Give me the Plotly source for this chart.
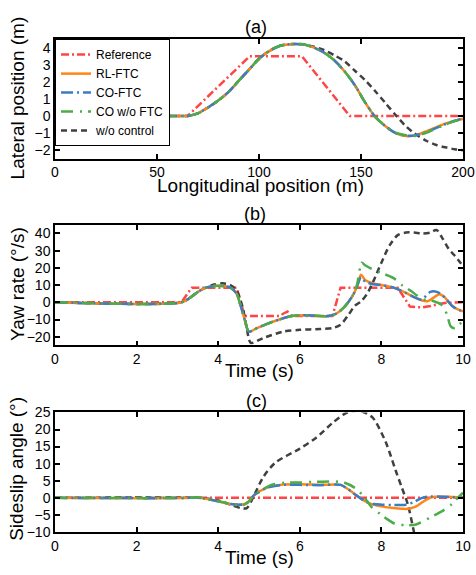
import plotly.graph_objects as go

# ---------------- data ----------------
series_names = ["Reference", "RL-FTC", "CO-FTC", "CO w/o FTC", "w/o control"]

# (a) lateral position vs longitudinal position
a_ref_x = [0, 65, 95.5, 121, 144.5, 200]
a_ref_y = [0, 0, 3.5, 3.5, 0, 0]

a_x = [0, 60, 65, 70, 75, 80, 85, 90, 95, 100, 105, 110, 115, 118, 122, 127, 132, 137,
       142, 147, 152, 157, 162, 167, 172, 176, 182, 187, 192, 196, 200]
a_rl = [0, 0, 0, 0.15, 0.5, 0.9, 1.4, 2.05, 2.7, 3.35, 3.8, 4.1, 4.2, 4.22, 4.18, 4.0, 3.7, 3.25,
        2.6, 1.8, 0.8, -0.05, -0.6, -1.0, -1.17, -1.15, -0.9, -0.65, -0.42, -0.28, -0.18]
a_co = [0, 0, 0, 0.15, 0.5, 0.9, 1.4, 2.05, 2.7, 3.35, 3.8, 4.1, 4.2, 4.22, 4.18, 4.0, 3.7, 3.25,
        2.6, 1.8, 0.8, -0.05, -0.6, -1.0, -1.15, -1.15, -0.95, -0.7, -0.45, -0.28, -0.12]
a_cowo = [0, 0, 0, 0.15, 0.5, 0.9, 1.4, 2.05, 2.7, 3.35, 3.8, 4.1, 4.2, 4.22, 4.18, 4.0, 3.7, 3.25,
          2.6, 1.8, 0.8, -0.05, -0.6, -0.98, -1.13, -1.17, -0.98, -0.72, -0.47, -0.3, -0.2]
a_woc = [0, 0, 0, 0.15, 0.5, 0.9, 1.4, 2.05, 2.7, 3.35, 3.8, 4.1, 4.2, 4.22, 4.2, 4.05, 3.85, 3.55,
         3.2, 2.65, 2.1, 1.45, 0.75, 0.05, -0.6, -1.0, -1.45, -1.7, -1.85, -1.95, -2.0]

# (b) yaw rate vs time
b_ref_t = [0, 3.1, 3.35, 4.45, 4.65, 5.5, 5.6, 5.7, 5.8, 6.8, 7.0, 8.4, 8.7, 9.0, 9.2, 9.4, 9.6, 10]
b_ref_y = [0, 0, 8.5, 8.5, -8.0, -8.0, -6.5, -5.4, -8.0, -8.0, 8.5, 8.5, -2.5, -3.0, -2.2, -1.0, -0.3, 0]

b_rl_t = [0, 3.1, 3.3, 3.5, 3.7, 3.9, 4.1, 4.3, 4.45, 4.55, 4.65, 4.75, 4.95, 5.2, 5.5, 5.8, 6.1,
          6.4, 6.7, 6.9, 7.1, 7.3, 7.4, 7.5, 7.6, 7.8, 8.0, 8.3, 8.6, 8.8, 9.0, 9.15, 9.3, 9.42,
          9.55, 9.7, 9.85, 10]
b_rl_y = [0, 0, 2.5, 6, 8.5, 9.5, 9.5, 8.5, 5, -2, -10, -17, -15, -12.5, -10, -8, -7.5,
          -7.8, -8, -6.5, -2.5, 4, 9, 16, 13, 11, 10, 8.5, 5.5, 3.0, 1.0, 0.8, 3.0, 4.7,
          3.0, -1.5, -3.8, -5.2]

b_co_t = [0, 3.1, 3.3, 3.5, 3.7, 3.9, 4.1, 4.3, 4.45, 4.55, 4.65, 4.75, 4.95, 5.2, 5.5, 5.8, 6.1,
          6.4, 6.7, 6.9, 7.1, 7.3, 7.4, 7.5, 7.6, 7.8, 8.0, 8.3, 8.6, 8.8, 9.0, 9.1, 9.2, 9.32,
          9.45, 9.6, 9.75, 9.9, 10]
b_co_y = [0, 0, 2.5, 6, 8.5, 9.5, 9.5, 8.5, 5, -2, -10, -17, -15, -12.5, -10, -8, -7.5,
          -7.8, -8, -6.5, -2.5, 4, 9, 14.5, 12, 10.5, 10, 8.5, 5.5, 3.0, 1.5, 4.0, 6.0, 6.3,
          5.0, 1.5, -2.5, -4.5, -5.0]

b_cowo_t = [0, 3.1, 3.3, 3.5, 3.7, 3.9, 4.1, 4.3, 4.45, 4.55, 4.65, 4.75, 4.95, 5.2, 5.5, 5.8, 6.1,
            6.4, 6.7, 6.9, 7.1, 7.3, 7.4, 7.52, 7.6, 7.8, 8.0, 8.3, 8.5, 8.7, 9.0, 9.3, 9.45,
            9.55, 9.62, 9.7, 9.8, 9.9, 10]
b_cowo_y = [0, 0, 2.5, 6, 8.5, 9.5, 9.5, 8.5, 5, -2, -10, -17, -15, -12.5, -10, -8, -7.5,
            -7.8, -8, -6.5, -2.5, 4, 10, 23, 21.5, 19, 17, 14, 10, 7, 2, 0.5, -1,
            -4, -8, -14, -15, -13, -11]

b_woc_t = [0, 3.1, 3.3, 3.5, 3.7, 3.9, 4.1, 4.3, 4.45, 4.6, 4.7, 4.8, 5.1, 5.6, 6.0, 6.5, 6.8,
           7.0, 7.2, 7.35, 7.5, 7.65, 7.8, 8.0, 8.2, 8.4, 8.6, 8.8, 9.0, 9.2, 9.35, 9.5, 9.65,
           9.8, 10]
b_woc_y = [0, 0, 2.5, 6, 8.5, 10.3, 11, 10, 7, -3, -15, -23.5, -20.8, -17, -16, -15.5, -15,
           -13, -7, -2, 0.5, 5, 12, 23, 33, 39, 40.5, 40.5, 40, 40.5, 42, 37, 31,
           27, 21]

# (c) sideslip angle vs time
c_ref_t = [0, 10]
c_ref_y = [0, 0]

c_rl_t = [0, 3.3, 3.5, 3.7, 4.0, 4.3, 4.55, 4.72, 4.88, 5.2, 5.6, 6.0, 6.5, 7.0, 7.15, 7.3, 7.45,
          7.6, 7.8, 8.0, 8.3, 8.5, 8.65, 8.85, 9.0, 9.15, 9.3, 9.6, 10]
c_rl_y = [0, 0, 0.2, -0.3, -1.0, -1.8, -2.0, -1.4, 0.8, 3.0, 3.9, 4.0, 3.8, 3.8, 2.8, 1.5, 0.2,
          -1.0, -2.0, -2.5, -3.0, -3.2, -3.2, -2.5, -1.3, -0.2, 0.3, 0.3, 0.0]

c_co_t = [0, 3.3, 3.5, 3.7, 4.0, 4.3, 4.55, 4.72, 4.88, 5.2, 5.6, 6.0, 6.5, 7.0, 7.15, 7.3, 7.45,
          7.6, 7.8, 8.0, 8.3, 8.6, 8.8, 9.0, 9.2, 9.5, 10]
c_co_y = [0, 0, 0.2, -0.3, -1.0, -1.8, -2.0, -1.4, 0.8, 3.0, 3.8, 3.8, 3.7, 3.8, 2.8, 1.5, 0.2,
          -1.0, -1.8, -2.0, -2.1, -2.0, -1.2, 0.0, 0.4, 0.3, 0.0]

c_cowo_t = [0, 3.3, 3.5, 3.7, 4.0, 4.3, 4.6, 4.75, 4.9, 5.1, 5.3, 5.6, 6.0, 6.4, 6.8, 7.1, 7.4,
            7.64, 7.76, 8.0, 8.15, 8.35, 8.6, 8.85, 9.0, 9.3, 9.5, 9.7, 9.85, 10]
c_cowo_y = [0, 0, 0.2, -0.3, -1.0, -1.8, -2.2, -1.0, 0.8, 2.5, 3.8, 4.4, 4.5, 4.7, 4.8, 4.4, 2.5,
            -0.8, -2.7, -5.0, -6.3, -7.7, -8.0, -7.8, -7.0, -5.1, -3.8, -2.1, -0.3, 1.5]

c_woc_t = [0, 3.5, 3.7, 4.0, 4.3, 4.55, 4.7, 4.85, 5.1, 5.4, 6.0, 6.4, 6.8, 7.1, 7.3, 7.5, 7.65,
           7.8, 8.1, 8.35, 8.5, 8.65, 8.78, 8.85]
c_woc_y = [0, 0, -0.2, -0.8, -2.0, -3.0, -3.0, 0.0, 6.0, 10.3, 14.4, 17.6, 21.9, 24.6, 25.4, 25.4,
           24.6, 23.3, 16.5, 8.0, 3.0, -2.0, -9.0, -13.0]

a_xticks = [0, 50, 100, 150, 200]
a_yticks = [-2, -1, 0, 1, 2, 3, 4]
t_ticks = [0, 2, 4, 6, 8, 10]
b_yticks = [-20, -10, 0, 10, 20, 30, 40]
c_yticks = [-10, -5, 0, 5, 10, 15, 20, 25]

# ---------------- styles ----------------
colors = ["#ff4545", "#ff8517", "#3b7dc4", "#4aad4a", "#404040"]
dashes = ["8px,3px,2px,3px", "solid", "12px,4px,2px,4px", "12px,7px,2px,6px", "6px,4px"]
LW = 2.5

fig = go.Figure()

panels = [
    ("x", "y", [(a_ref_x, a_ref_y), (a_x, a_rl), (a_x, a_co), (a_x, a_cowo), (a_x, a_woc)]),
    ("x2", "y2", [(b_ref_t, b_ref_y), (b_rl_t, b_rl_y), (b_co_t, b_co_y), (b_cowo_t, b_cowo_y),
                  (b_woc_t, b_woc_y)]),
    ("x3", "y3", [(c_ref_t, c_ref_y), (c_rl_t, c_rl_y), (c_co_t, c_co_y), (c_cowo_t, c_cowo_y),
                  (c_woc_t, c_woc_y)]),
]

order = [0, 4, 1, 2, 3]
for pi, (xa, ya, data) in enumerate(panels):
    for i in order:
        xs, ys = data[i]
        fig.add_trace(go.Scatter(
            x=xs, y=ys, xaxis=xa, yaxis=ya, mode="lines",
            name=series_names[i], legendrank=i + 1,
            showlegend=(pi == 0),
            line=dict(color=colors[i], width=LW, dash=dashes[i],
                      shape="linear" if i == 0 else "spline",
                      smoothing=0.8 if i != 0 else None),
        ))

H = 575.0
def py(p):
    return 1 - p / H

axis_common = dict(showline=True, linecolor="black", linewidth=1.5, mirror="ticks",
                   ticks="inside", ticklen=5, tickwidth=1.5, tickcolor="black",
                   showgrid=False, zeroline=False,
                   tickfont=dict(family="Liberation Sans, Arial", size=14, color="black"))

fig.update_layout(
    width=476, height=575,
    margin=dict(l=55, r=13, t=0, b=0),
    paper_bgcolor="white", plot_bgcolor="white",
    font=dict(family="Liberation Sans, Arial", color="black"),
    xaxis=dict(domain=[0, 1], anchor="y", range=[0, 200], tickvals=a_xticks, **axis_common),
    yaxis=dict(domain=[py(155), py(32)], anchor="x", range=[-2.5, 4.5], tickvals=a_yticks, **axis_common),
    xaxis2=dict(domain=[0, 1], anchor="y2", range=[0, 10], tickvals=t_ticks, **axis_common),
    yaxis2=dict(domain=[py(347), py(223)], anchor="x2", range=[-25, 45], tickvals=b_yticks, **axis_common),
    xaxis3=dict(domain=[0, 1], anchor="y3", range=[0, 10], tickvals=t_ticks, **axis_common),
    yaxis3=dict(domain=[py(539), py(416)], anchor="x3", range=[-10, 25], tickvals=c_yticks, **axis_common),
    legend=dict(x=0, y=py(32), xanchor="left", yanchor="top",
                bgcolor="white", bordercolor="black", borderwidth=1,
                font=dict(family="Liberation Sans, Arial", size=12, color="black"),
                traceorder="normal", tracegroupgap=0),
    showlegend=True,
)

def ann(text, x, y, size, angle=0):
    fig.add_annotation(text=text, xref="paper", yref="paper", x=x, y=y,
                       xanchor="center", yanchor="middle", showarrow=False,
                       textangle=angle,
                       font=dict(family="Liberation Sans, Arial", size=size, color="black"))

def pxx(p):
    return (p - 55) / 408.0

ann("(a)", pxx(256), py(20), 18)
ann("(b)", pxx(255), py(212), 18)
ann("(c)", pxx(256), py(404), 18)
ann("Longitudinal position (m)", pxx(260), py(183), 19)
ann("Time (s)", pxx(259), py(373), 19)
ann("Time (s)", pxx(259), py(565), 19)
ann("Lateral position (m)", pxx(17), py(93), 19, -90)
ann("Yaw rate (°/s)", pxx(17), py(284), 19, -90)
ann("Sideslip angle (°)", pxx(17), py(474), 19, -90)

fig.write_html("out.html", config={"displayModeBar": False},
               post_script="document.body.style.margin='0';")
